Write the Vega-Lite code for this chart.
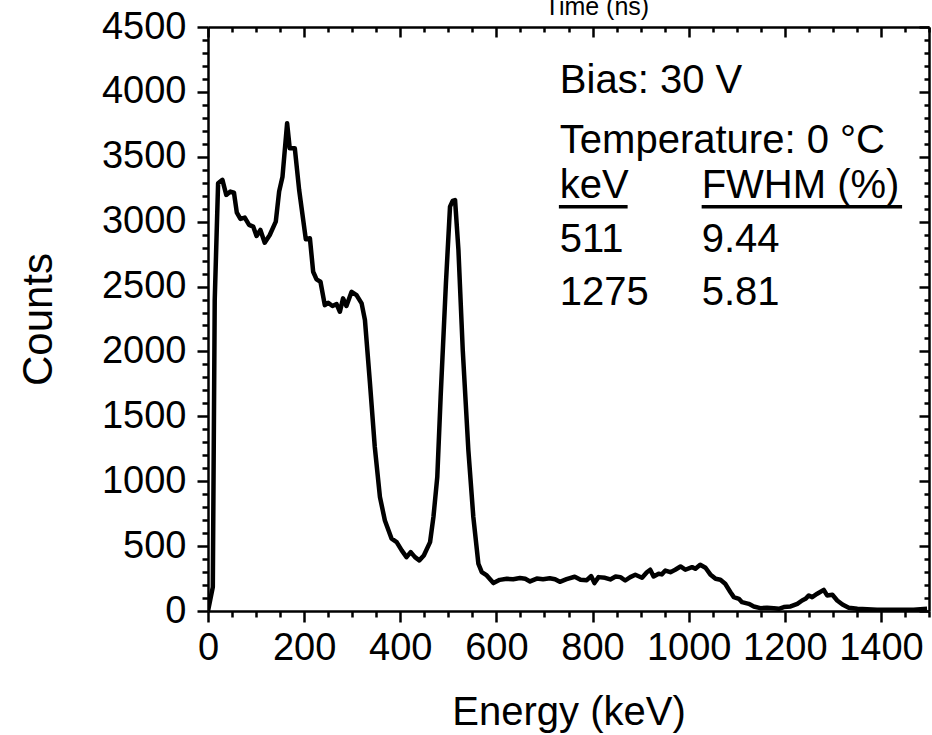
{
  "$schema": "https://vega.github.io/schema/vega-lite/v6.json",
  "width": 721,
  "height": 584,
  "padding": {"left": 208, "top": 27, "right": 3, "bottom": 124},
  "autosize": {"type": "none"},
  "background": "white",
  "config": {
    "view": {"stroke": null},
    "font": "Liberation Sans",
    "axis": {
      "grid": false,
      "domainColor": "black",
      "domainWidth": 2.5,
      "tickColor": "black",
      "tickWidth": 2.5,
      "labelColor": "black",
      "labelFont": "Liberation Sans",
      "labelFontSize": 38,
      "labelFlush": false,
      "labelOverlap": false,
      "labelBound": false,
      "format": "d",
      "titleFont": "Liberation Sans",
      "titleFontSize": 40,
      "titleFontWeight": "normal",
      "titleColor": "black"
    }
  },
  "resolve": {"axis": {"x": "independent", "y": "independent"}},
  "datasets": {
    "spectrum": [
      {"E": 0, "C": 0}, {"E": 10, "C": 184}, {"E": 14, "C": 2396}, {"E": 21, "C": 3296},
      {"E": 30, "C": 3322}, {"E": 38, "C": 3206}, {"E": 46.6, "C": 3232}, {"E": 54, "C": 3224},
      {"E": 60, "C": 3069}, {"E": 67.5, "C": 3021}, {"E": 76.5, "C": 3031}, {"E": 85.5, "C": 2975},
      {"E": 94, "C": 2962}, {"E": 101, "C": 2890}, {"E": 109, "C": 2936}, {"E": 118, "C": 2838},
      {"E": 128.5, "C": 2897}, {"E": 141, "C": 3000}, {"E": 148, "C": 3232}, {"E": 155, "C": 3347},
      {"E": 164.6, "C": 3759}, {"E": 170, "C": 3566}, {"E": 180.6, "C": 3566}, {"E": 189.6, "C": 3245},
      {"E": 203.5, "C": 2864}, {"E": 212, "C": 2872}, {"E": 218.8, "C": 2614}, {"E": 225.8, "C": 2555},
      {"E": 234, "C": 2537}, {"E": 243, "C": 2357}, {"E": 250, "C": 2375}, {"E": 259, "C": 2350},
      {"E": 267.5, "C": 2365}, {"E": 274.4, "C": 2306}, {"E": 281, "C": 2409}, {"E": 288, "C": 2350},
      {"E": 298.7, "C": 2460}, {"E": 309, "C": 2434}, {"E": 319.6, "C": 2370}, {"E": 326.5, "C": 2242},
      {"E": 337, "C": 1753}, {"E": 347, "C": 1264}, {"E": 357.7, "C": 878}, {"E": 368, "C": 698},
      {"E": 382, "C": 557}, {"E": 392.5, "C": 531}, {"E": 403, "C": 467}, {"E": 413, "C": 415},
      {"E": 421.7, "C": 454}, {"E": 430.6, "C": 415}, {"E": 439.6, "C": 390}, {"E": 449, "C": 428},
      {"E": 462, "C": 531}, {"E": 469, "C": 724}, {"E": 477, "C": 1032}, {"E": 484, "C": 1650},
      {"E": 495, "C": 2527}, {"E": 503.5, "C": 3116}, {"E": 509, "C": 3160}, {"E": 514, "C": 3167},
      {"E": 521, "C": 2782}, {"E": 530, "C": 2010}, {"E": 541.7, "C": 1238}, {"E": 552, "C": 724},
      {"E": 562.5, "C": 364}, {"E": 569.6, "C": 299}, {"E": 580, "C": 274}, {"E": 593.8, "C": 215},
      {"E": 607, "C": 240}, {"E": 621.7, "C": 248}, {"E": 635, "C": 245}, {"E": 649, "C": 254},
      {"E": 660, "C": 248}, {"E": 670, "C": 228}, {"E": 684, "C": 250}, {"E": 697, "C": 245},
      {"E": 711, "C": 252}, {"E": 722, "C": 245}, {"E": 732, "C": 225}, {"E": 746, "C": 245},
      {"E": 763, "C": 264}, {"E": 775, "C": 241}, {"E": 788, "C": 237}, {"E": 797, "C": 269},
      {"E": 804, "C": 215}, {"E": 812.5, "C": 261}, {"E": 826, "C": 256}, {"E": 837, "C": 243},
      {"E": 848, "C": 266}, {"E": 858, "C": 261}, {"E": 868, "C": 235}, {"E": 878.5, "C": 261},
      {"E": 889, "C": 279}, {"E": 903, "C": 256}, {"E": 913, "C": 299}, {"E": 920, "C": 318},
      {"E": 927, "C": 266}, {"E": 937.5, "C": 287}, {"E": 944, "C": 282}, {"E": 951.5, "C": 312},
      {"E": 962, "C": 299}, {"E": 972, "C": 318}, {"E": 983, "C": 343}, {"E": 993, "C": 318},
      {"E": 1007, "C": 338}, {"E": 1014, "C": 325}, {"E": 1024, "C": 356}, {"E": 1035, "C": 333},
      {"E": 1045, "C": 282}, {"E": 1056, "C": 248}, {"E": 1066, "C": 241}, {"E": 1076, "C": 210},
      {"E": 1087, "C": 145}, {"E": 1094, "C": 107}, {"E": 1104.5, "C": 94}, {"E": 1111, "C": 68},
      {"E": 1125, "C": 55}, {"E": 1135.5, "C": 35}, {"E": 1149, "C": 22}, {"E": 1163, "C": 25},
      {"E": 1177, "C": 22}, {"E": 1187.5, "C": 17}, {"E": 1198, "C": 30}, {"E": 1212, "C": 35},
      {"E": 1226, "C": 55}, {"E": 1236, "C": 81}, {"E": 1243, "C": 94}, {"E": 1250, "C": 120},
      {"E": 1257, "C": 107}, {"E": 1267.5, "C": 133}, {"E": 1281, "C": 163}, {"E": 1288, "C": 120},
      {"E": 1299, "C": 125}, {"E": 1309, "C": 81}, {"E": 1320, "C": 50}, {"E": 1333, "C": 25},
      {"E": 1351, "C": 17}, {"E": 1392, "C": 10}, {"E": 1427, "C": 10}, {"E": 1468, "C": 10},
      {"E": 1496, "C": 17}
    ],
    "notes": [
      {"x": 732, "y": 3989, "label": "Bias: 30 V"},
      {"x": 732, "y": 3527, "label": "Temperature: 0 °C"},
      {"x": 732, "y": 3180, "label": "keV"},
      {"x": 1027, "y": 3180, "label": "FWHM (%)"},
      {"x": 732, "y": 2769, "label": "511"},
      {"x": 1027, "y": 2769, "label": "9.44"},
      {"x": 732, "y": 2358, "label": "1275"},
      {"x": 1027, "y": 2358, "label": "5.81"}
    ],
    "underlines": [
      {"x": 730, "x2": 873, "y": 3115},
      {"x": 1027, "x2": 1444, "y": 3115}
    ],
    "toptext": [
      {"x": 809, "y": 4592, "label": "Time (ns)"}
    ]
  },
  "layer": [
    {
      "data": {"name": "spectrum"},
      "mark": {"type": "line", "color": "black", "strokeWidth": 4.5, "strokeJoin": "round", "clip": true},
      "encoding": {
        "x": {"field": "E", "type": "quantitative",
              "scale": {"domain": [0, 1500], "nice": false, "zero": false},
              "axis": {"orient": "bottom", "title": "Energy (keV)", "tickColor": "black", "tickWidth": 2.5,
                       "values": [0, 200, 400, 600, 800, 1000, 1200, 1400],
                       "tickSize": 11, "labelPadding": 7, "titlePadding": 25}},
        "y": {"field": "C", "type": "quantitative",
              "scale": {"domain": [0, 4500], "nice": false, "zero": false},
              "axis": {"orient": "left", "title": "Counts", "titleFontSize": 42,
                       "values": [0, 500, 1000, 1500, 2000, 2500, 3000, 3500, 4000, 4500],
                       "tickSize": 11, "labelPadding": 11, "titlePadding": 41}}
      }
    },
    {
      "data": {"name": "notes"},
      "mark": {"type": "text", "align": "left", "baseline": "alphabetic", "fontSize": 40, "font": "Liberation Sans", "color": "black"},
      "encoding": {
        "x": {"field": "x", "type": "quantitative",
              "scale": {"domain": [0, 1500], "nice": false, "zero": false},
              "axis": {"orient": "bottom", "title": null, "labels": false, "domain": false, "tickSize": 6,
                       "values": [50, 100, 150, 250, 300, 350, 450, 500, 550, 650, 700, 750, 850, 900, 950, 1050, 1100, 1150, 1250, 1300, 1350, 1450, 1500]}},
        "y": {"field": "y", "type": "quantitative",
              "scale": {"domain": [0, 4500], "nice": false, "zero": false},
              "axis": {"orient": "left", "title": null, "labels": false, "domain": false, "tickSize": 6,
                       "values": [100, 200, 300, 400, 600, 700, 800, 900, 1100, 1200, 1300, 1400, 1600, 1700, 1800, 1900, 2100, 2200, 2300, 2400, 2600, 2700, 2800, 2900, 3100, 3200, 3300, 3400, 3600, 3700, 3800, 3900, 4100, 4200, 4300, 4400]}},
        "text": {"field": "label"}
      }
    },
    {
      "data": {"name": "underlines"},
      "mark": {"type": "rule", "color": "black", "strokeWidth": 3.5},
      "encoding": {
        "x": {"field": "x", "type": "quantitative",
              "scale": {"domain": [0, 1500], "nice": false, "zero": false},
              "axis": {"orient": "top", "title": null, "labels": false, "tickSize": -10,
                       "values": [0, 200, 400, 600, 800, 1000, 1200, 1400]}},
        "x2": {"field": "x2"},
        "y": {"field": "y", "type": "quantitative",
              "scale": {"domain": [0, 4500], "nice": false, "zero": false},
              "axis": {"orient": "right", "title": null, "labels": false, "tickSize": -10,
                       "values": [0, 500, 1000, 1500, 2000, 2500, 3000, 3500, 4000, 4500]}}
      }
    },
    {
      "data": {"name": "toptext"},
      "mark": {"type": "text", "align": "center", "baseline": "alphabetic", "fontSize": 25, "font": "Liberation Sans", "color": "black", "clip": false},
      "encoding": {
        "x": {"field": "x", "type": "quantitative",
              "scale": {"domain": [0, 1500], "nice": false, "zero": false},
              "axis": {"orient": "top", "title": null, "labels": false, "domain": false, "tickSize": -5,
                       "values": [50, 100, 150, 250, 300, 350, 450, 500, 550, 650, 700, 750, 850, 900, 950, 1050, 1100, 1150, 1250, 1300, 1350, 1450, 1500]}},
        "y": {"field": "y", "type": "quantitative",
              "scale": {"domain": [0, 4500], "nice": false, "zero": false},
              "axis": {"orient": "right", "title": null, "labels": false, "domain": false, "tickSize": -5,
                       "values": [100, 200, 300, 400, 600, 700, 800, 900, 1100, 1200, 1300, 1400, 1600, 1700, 1800, 1900, 2100, 2200, 2300, 2400, 2600, 2700, 2800, 2900, 3100, 3200, 3300, 3400, 3600, 3700, 3800, 3900, 4100, 4200, 4300, 4400]}},
        "text": {"field": "label"}
      }
    }
  ]
}
